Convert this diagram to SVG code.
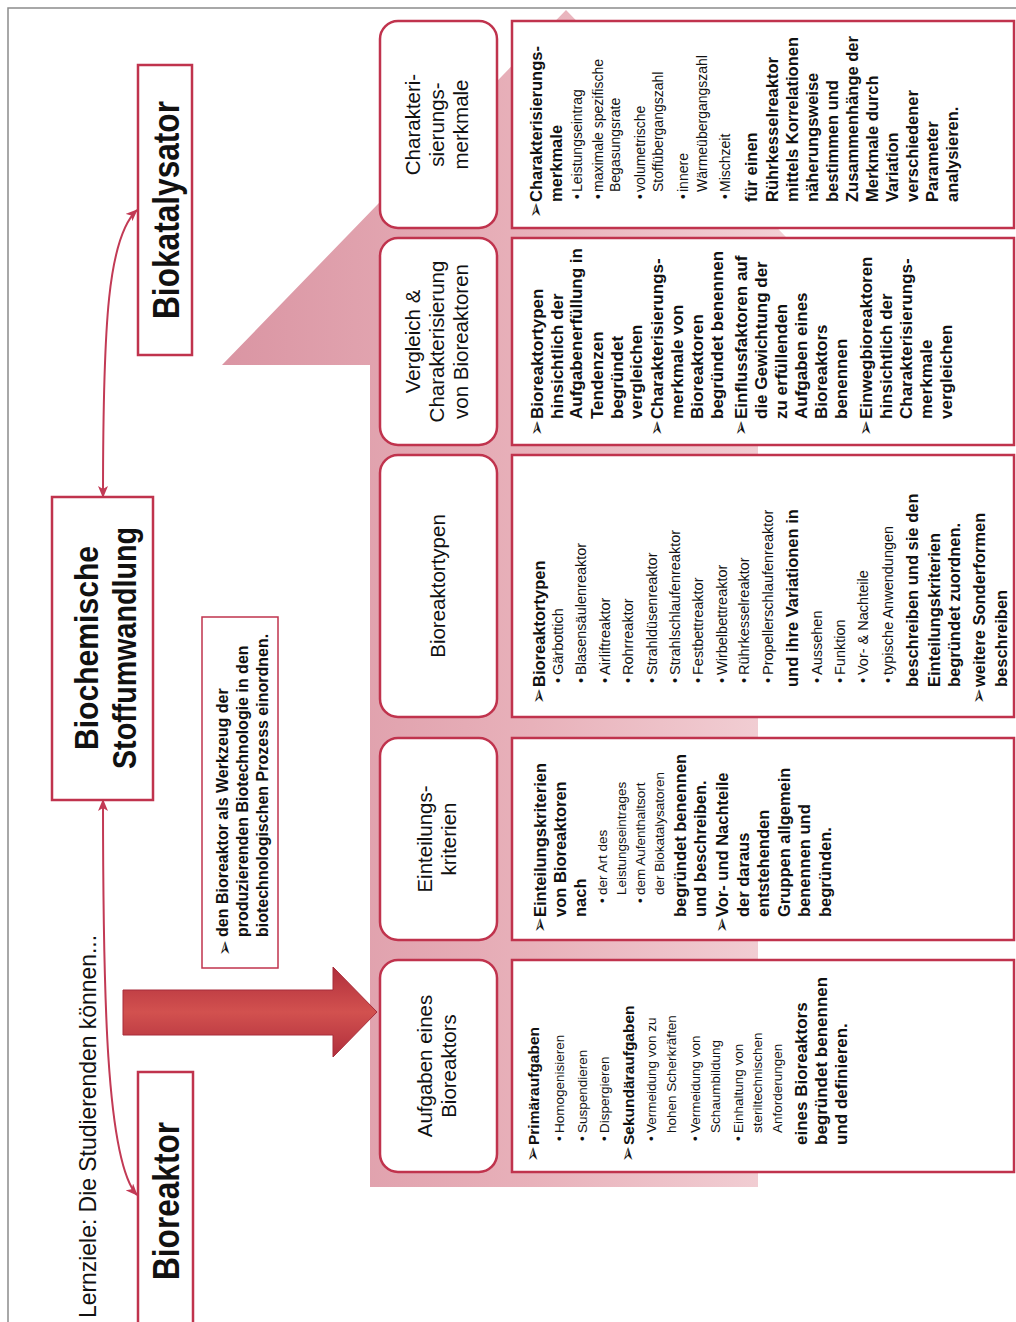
<svg xmlns="http://www.w3.org/2000/svg" width="1016" height="1322" viewBox="0 0 1016 1322">
<style>
text{font-family:'Liberation Sans',Arial,sans-serif;fill:#111}
.ttl{font-size:24px}
.big{font-size:36px;font-weight:bold}
.mid{font-size:34px;font-weight:bold}
.hd{font-size:20.5px;text-anchor:middle}
.b17{font-size:17px;font-weight:bold}
.b165{font-size:16.5px;font-weight:bold}
.b15{font-size:15.5px;font-weight:bold}
.b16{font-size:16px;font-weight:bold}
.s135{font-size:13.5px}
.s145{font-size:14.5px}
.s14{font-size:14px}
.ar{font-family:'DejaVu Sans',sans-serif;font-size:19px;font-weight:normal}
.box{fill:#fff;stroke:#c0334d;stroke-width:2.5}
.hbox{fill:#fff;stroke:#c0334d;stroke-width:2.5}
.con{fill:none;stroke:#c23a55;stroke-width:2}
</style>
<defs>
<linearGradient id="pinkG" gradientUnits="userSpaceOnUse" x1="0" y1="222" x2="0" y2="910">
<stop offset="0" stop-color="#da95a3"/>
<stop offset="0.45" stop-color="#e8b1ba"/>
<stop offset="1" stop-color="#f7e0e3"/>
</linearGradient>
<linearGradient id="redG" gradientUnits="userSpaceOnUse" x1="265" y1="0" x2="355" y2="0">
<stop offset="0" stop-color="#b02e3c"/>
<stop offset="0.5" stop-color="#d2514f"/>
<stop offset="1" stop-color="#b02e3c"/>
</linearGradient>
<marker id="ah" viewBox="0 0 12 10" refX="11" refY="5" markerWidth="12" markerHeight="10" markerUnits="userSpaceOnUse" orient="auto-start-reverse">
<path d="M0,0 L12,5 L0,10 L3,5 z" fill="#c23a55"/>
</marker>
</defs>
<g transform="translate(0,1322) rotate(-90)">
<rect x="-10" y="8" width="1324" height="1030" fill="#fff" stroke="#8c8c8c" stroke-width="1.5"/>
<g id="background-arrow">
<polygon points="135,370 957,370 957,222 1312,566 957,910 957,758 135,758" fill="url(#pinkG)"/>
</g>
<text class="ttl" x="4" y="96" textLength="383" lengthAdjust="spacingAndGlyphs">Lernziele: Die Studierenden können...</text>
<g id="connectors">
<path class="con" d="M522,103 C330,103 160,106 127,137" marker-start="url(#ah)" marker-end="url(#ah)"/>
<path class="con" d="M825,103 C1000,103 1085,108 1112,137" marker-start="url(#ah)" marker-end="url(#ah)"/>
<polygon points="332,123 332,333 355,333 310,377 265,333 287,333 287,123" fill="url(#redG)" stroke="#a82c3a" stroke-width="1"/>
</g>
<g id="node-bioreaktor">
<rect class="box" x="-8" y="138" width="258" height="55"/>
<text class="big" x="121" y="179" text-anchor="middle" textLength="158" lengthAdjust="spacingAndGlyphs">Bioreaktor</text>
</g>
<g id="node-biochemische-stoffumwandlung">
<rect class="box" x="522" y="52" width="303" height="101"/>
<text class="mid" x="674" y="98" text-anchor="middle" textLength="204" lengthAdjust="spacingAndGlyphs">Biochemische</text>
<text class="mid" x="674" y="136" text-anchor="middle" textLength="242" lengthAdjust="spacingAndGlyphs">Stoffumwandlung</text>
</g>
<g id="node-biokatalysator">
<rect class="box" x="967" y="138" width="290" height="54"/>
<text class="big" x="1112" y="179" text-anchor="middle" textLength="218" lengthAdjust="spacingAndGlyphs">Biokatalysator</text>
</g>
<g id="node-werkzeug">
<rect x="354" y="202" width="351" height="76" fill="#fff" stroke="#c0334d" stroke-width="1.5"/>
<text class="ar" x="366" y="231">➢</text>
<text class="b16" x="385" y="228">den Bioreaktor als Werkzeug der</text>
<text class="b16" x="385" y="248">produzierenden Biotechnologie in den</text>
<text class="b16" x="385" y="268">biotechnologischen Prozess einordnen.</text>
</g>
<g id="node-aufgaben">
<rect class="hbox" x="150" y="380" width="212" height="117" rx="18"/>
<text class="hd" x="256" y="432">Aufgaben eines</text>
<text class="hd" x="256" y="456">Bioreaktors</text>
<rect class="box" x="150" y="512" width="212" height="502"/>
<text class="b15" y="539"><tspan class="ar" x="160">➢</tspan><tspan x="177">Primäraufgaben</tspan></text>
<text class="s135" y="564"><tspan x="181">•</tspan><tspan x="189">Homogenisieren</tspan></text>
<text class="s135" y="587"><tspan x="181">•</tspan><tspan x="189">Suspendieren</tspan></text>
<text class="s135" y="609"><tspan x="181">•</tspan><tspan x="189">Dispergieren</tspan></text>
<text class="b15" y="634"><tspan class="ar" x="160">➢</tspan><tspan x="177">Sekundäraufgaben</tspan></text>
<text class="s135" y="656"><tspan x="181">•</tspan><tspan x="189">Vermeidung von zu</tspan></text>
<text class="s135" x="189" y="676">hohen Scherkräften</text>
<text class="s135" y="700"><tspan x="181">•</tspan><tspan x="189">Vermeidung von</tspan></text>
<text class="s135" x="189" y="720">Schaumbildung</text>
<text class="s135" y="743"><tspan x="181">•</tspan><tspan x="189">Einhaltung von</tspan></text>
<text class="s135" x="189" y="762">steriltechnischen</text>
<text class="s135" x="189" y="782">Anforderungen</text>
<text class="b17" x="177" y="807">eines Bioreaktors</text>
<text class="b17" x="177" y="827">begründet benennen</text>
<text class="b17" x="177" y="847">und definieren.</text>
</g>
<g id="node-einteilungskriterien">
<rect class="hbox" x="382" y="380" width="202" height="117" rx="18"/>
<text class="hd" x="483" y="432">Einteilungs-</text>
<text class="hd" x="483" y="456">kriterien</text>
<rect class="box" x="382" y="512" width="202" height="502"/>
<text class="b165" y="546"><tspan class="ar" x="389">➢</tspan><tspan x="405">Einteilungskriterien</tspan></text>
<text class="b165" x="405" y="566">von Bioreaktoren</text>
<text class="b165" x="405" y="586">nach</text>
<text class="s135" y="607"><tspan x="419">•</tspan><tspan x="427">der Art des</tspan></text>
<text class="s135" x="427" y="626">Leistungseintrages</text>
<text class="s135" y="645"><tspan x="419">•</tspan><tspan x="427">dem Aufenthaltsort</tspan></text>
<text class="s135" x="427" y="664">der Biokatalysatoren</text>
<text class="b165" x="405" y="686">begründet benennen</text>
<text class="b165" x="405" y="706">und beschreiben.</text>
<text class="b165" y="728"><tspan class="ar" x="389">➢</tspan><tspan x="405">Vor- und Nachteile</tspan></text>
<text class="b165" x="405" y="749">der daraus</text>
<text class="b165" x="405" y="769">entstehenden</text>
<text class="b165" x="405" y="790">Gruppen allgemein</text>
<text class="b165" x="405" y="810">benennen und</text>
<text class="b165" x="405" y="831">begründen.</text>
</g>
<g id="node-bioreaktortypen">
<rect class="hbox" x="605" y="380" width="262" height="117" rx="18"/>
<text class="hd" x="736" y="445">Bioreaktortypen</text>
<rect class="box" x="605" y="512" width="262" height="502"/>
<text class="b165" y="545"><tspan class="ar" x="618">➢</tspan><tspan x="635">Bioreaktortypen</tspan></text>
<text class="s145" y="563"><tspan x="639">•</tspan><tspan x="647">Gärbottich</tspan></text>
<text class="s145" y="586"><tspan x="639">•</tspan><tspan x="647">Blasensäulenreaktor</tspan></text>
<text class="s145" y="610"><tspan x="639">•</tspan><tspan x="647">Airliftreaktor</tspan></text>
<text class="s145" y="633"><tspan x="639">•</tspan><tspan x="647">Rohrreaktor</tspan></text>
<text class="s145" y="657"><tspan x="639">•</tspan><tspan x="647">Strahldüsenreaktor</tspan></text>
<text class="s145" y="680"><tspan x="639">•</tspan><tspan x="647">Strahlschlaufenreaktor</tspan></text>
<text class="s145" y="703"><tspan x="639">•</tspan><tspan x="647">Festbettreaktor</tspan></text>
<text class="s145" y="727"><tspan x="639">•</tspan><tspan x="647">Wirbelbettreaktor</tspan></text>
<text class="s145" y="749"><tspan x="639">•</tspan><tspan x="647">Rührkesselreaktor</tspan></text>
<text class="s145" y="773"><tspan x="639">•</tspan><tspan x="647">Propellerschlaufenreaktor</tspan></text>
<text class="b165" x="635" y="798">und ihre Variationen in</text>
<text class="s145" y="822"><tspan x="639">•</tspan><tspan x="647">Aussehen</tspan></text>
<text class="s145" y="845"><tspan x="639">•</tspan><tspan x="647">Funktion</tspan></text>
<text class="s145" y="868"><tspan x="639">•</tspan><tspan x="647">Vor- &amp; Nachteile</tspan></text>
<text class="s145" y="893"><tspan x="639">•</tspan><tspan x="647">typische Anwendungen</tspan></text>
<text class="b165" x="635" y="918">beschreiben und sie den</text>
<text class="b165" x="635" y="940">Einteilungskriterien</text>
<text class="b165" x="635" y="960">begründet zuordnen.</text>
<text class="b165" y="985"><tspan class="ar" x="618">➢</tspan><tspan x="635">weitere Sonderformen</tspan></text>
<text class="b165" x="635" y="1007">beschreiben</text>
</g>
<g id="node-vergleich">
<rect class="hbox" x="877" y="380" width="207" height="117" rx="18"/>
<text class="hd" x="980.5" y="420">Vergleich &amp;</text>
<text class="hd" x="980.5" y="444">Charakterisierung</text>
<text class="hd" x="980.5" y="468">von Bioreaktoren</text>
<rect class="box" x="877" y="512" width="207" height="502"/>
<text class="b17" y="543"><tspan class="ar" x="886">➢</tspan><tspan x="903">Bioreaktortypen</tspan></text>
<text class="b17" x="903" y="563">hinsichtlich der</text>
<text class="b17" x="903" y="582">Aufgabenerfüllung in</text>
<text class="b17" x="903" y="603">Tendenzen</text>
<text class="b17" x="903" y="623">begründet</text>
<text class="b17" x="903" y="642">vergleichen</text>
<text class="b17" y="663"><tspan class="ar" x="886">➢</tspan><tspan x="903">Charakterisierungs-</tspan></text>
<text class="b17" x="903" y="683">merkmale von</text>
<text class="b17" x="903" y="703">Bioreaktoren</text>
<text class="b17" x="903" y="723">begründet benennen</text>
<text class="b17" y="747"><tspan class="ar" x="886">➢</tspan><tspan x="903">Einflussfaktoren auf</tspan></text>
<text class="b17" x="903" y="767">die Gewichtung der</text>
<text class="b17" x="903" y="787">zu erfüllenden</text>
<text class="b17" x="903" y="807">Aufgaben eines</text>
<text class="b17" x="903" y="827">Bioreaktors</text>
<text class="b17" x="903" y="847">benennen</text>
<text class="b17" y="872"><tspan class="ar" x="886">➢</tspan><tspan x="903">Einwegbioreaktoren</tspan></text>
<text class="b17" x="903" y="892">hinsichtlich der</text>
<text class="b17" x="903" y="912">Charakterisierungs-</text>
<text class="b17" x="903" y="932">merkmale</text>
<text class="b17" x="903" y="952">vergleichen</text>
</g>
<g id="node-charakterisierungsmerkmale">
<rect class="hbox" x="1094" y="380" width="207" height="117" rx="18"/>
<text class="hd" x="1197.5" y="420">Charakteri-</text>
<text class="hd" x="1197.5" y="444">sierungs-</text>
<text class="hd" x="1197.5" y="468">merkmale</text>
<rect class="box" x="1094" y="512" width="207" height="502"/>
<text class="b165" y="542"><tspan class="ar" x="1104">➢</tspan><tspan x="1120">Charakterisierungs-</tspan></text>
<text class="b165" x="1120" y="562">merkmale</text>
<text class="s14" y="582"><tspan x="1123">•</tspan><tspan x="1130">Leistungseintrag</tspan></text>
<text class="s14" y="603"><tspan x="1123">•</tspan><tspan x="1130">maximale spezifische</tspan></text>
<text class="s14" x="1130" y="620">Begasungsrate</text>
<text class="s14" y="645"><tspan x="1123">•</tspan><tspan x="1130">volumetrische</tspan></text>
<text class="s14" x="1130" y="663">Stoffübergangszahl</text>
<text class="s14" y="688"><tspan x="1123">•</tspan><tspan x="1130">innere</tspan></text>
<text class="s14" x="1130" y="707">Wärmeübergangszahl</text>
<text class="s14" y="730"><tspan x="1123">•</tspan><tspan x="1130">Mischzeit</tspan></text>
<text class="b165" x="1120" y="757">für einen</text>
<text class="b165" x="1120" y="778">Rührkesselreaktor</text>
<text class="b165" x="1120" y="798">mittels Korrelationen</text>
<text class="b165" x="1120" y="818">näherungsweise</text>
<text class="b165" x="1120" y="838">bestimmen und</text>
<text class="b165" x="1120" y="858">Zusammenhänge der</text>
<text class="b165" x="1120" y="878">Merkmale durch</text>
<text class="b165" x="1120" y="898">Variation</text>
<text class="b165" x="1120" y="918">verschiedener</text>
<text class="b165" x="1120" y="938">Parameter</text>
<text class="b165" x="1120" y="958">analysieren.</text>
</g>
</g>
</svg>
